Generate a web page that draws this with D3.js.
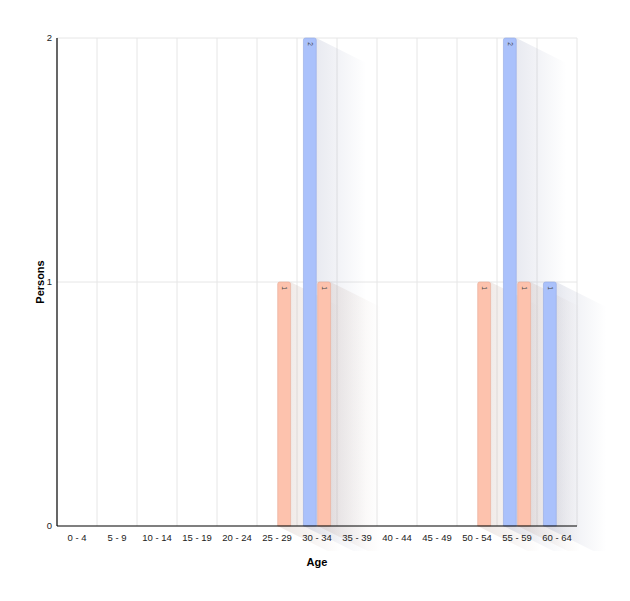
<!DOCTYPE html>
<html>
<head>
<meta charset="utf-8">
<script src="https://cdn.jsdelivr.net/npm/d3@7"></script>
<style>
  body { margin: 0; background: #fff; }
  text { font-family: "Liberation Sans", Arial, sans-serif; }
</style>
</head>
<body>
<svg id="chart" width="630" height="601"></svg>
<script>
// age groups and counts per series
var ageGroups = ["0 - 4", "5 - 9", "10 - 14", "15 - 19", "20 - 24", "25 - 29", "30 - 34",
                 "35 - 39", "40 - 44", "45 - 49", "50 - 54", "55 - 59", "60 - 64"];
var seriesNames = ["male", "female"];
var maleCounts   = [0, 0, 0, 0, 0, 0, 2, 0, 0, 0, 0, 2, 1];
var femaleCounts = [0, 0, 0, 0, 0, 1, 1, 0, 0, 0, 1, 1, 0];
var yTicks = [0, 1, 2];

var colors = { male: "#aac1fb", female: "#fdc2ad" };
var strokes = { male: "#92a8e0", female: "#e6a996" };
var shadowCols = { male: "#8d95b5", female: "#b59a8f" };

var svg = d3.select("#chart");
var margin = { left: 57, right: 53, top: 38, bottom: 75 };
var width = 630 - margin.left - margin.right;
var height = 601 - margin.top - margin.bottom;

var x = d3.scaleBand().domain(ageGroups).range([0, width]);
var xInner = d3.scaleBand().domain(seriesNames).range([5, x.bandwidth() - 5]).paddingInner(0.1).paddingOuter(0.1);
var y = d3.scaleLinear().domain([0, 2]).range([height, 0]);

var defs = svg.append("defs");
seriesNames.forEach(function(s) {
    var g = defs.append("linearGradient").attr("id", "shade-" + s)
        .attr("x1", "0%").attr("x2", "100%").attr("y1", "0%").attr("y2", "0%");
    g.append("stop").attr("offset", "0%").attr("stop-color", shadowCols[s]).attr("stop-opacity", 0.25);
    g.append("stop").attr("offset", "100%").attr("stop-color", shadowCols[s]).attr("stop-opacity", 0);
});

var g = svg.append("g").attr("transform", "translate(" + margin.left + "," + margin.top + ")");

// grid
g.append("g").selectAll("line")
  .data(ageGroups)
  .join("line")
  .attr("x1", function(d) { return x(d) + x.step(); })
  .attr("x2", function(d) { return x(d) + x.step(); })
  .attr("y1", 0).attr("y2", height)
  .attr("stroke", "#e6e6e6").attr("stroke-width", 1);

g.append("g").selectAll("line")
  .data(yTicks.slice(1))
  .join("line")
  .attr("x1", 0).attr("x2", width)
  .attr("y1", function(d) { return y(d); }).attr("y2", function(d) { return y(d); })
  .attr("stroke", "#e6e6e6").attr("stroke-width", 1);

// build bar list
var bars = [];
ageGroups.forEach(function(a, i) {
    if (maleCounts[i] > 0) bars.push({ age: a, s: "male", v: maleCounts[i] });
    if (femaleCounts[i] > 0) bars.push({ age: a, s: "female", v: femaleCounts[i] });
});

var L = 50, k = 0.5;
// shadows
g.append("g").selectAll("path")
  .data(bars)
  .join("path")
  .attr("d", function(d) {
      var x0 = x(d.age) + xInner(d.s), x1 = x0 + xInner.bandwidth();
      var top = y(d.v), bot = y(0);
      return "M" + x1 + "," + top + "L" + (x1 + L) + "," + (top + L * k) +
             "L" + (x1 + L) + "," + (bot + L * k) + "L" + (x0 + L) + "," + (bot + L * k) +
             "L" + x0 + "," + bot + "L" + x1 + "," + bot + "Z";
  })
  .attr("fill", function(d) { return "url(#shade-" + d.s + ")"; });

// bars with rounded tops
var r = 2;
g.append("g").selectAll("path")
  .data(bars)
  .join("path")
  .attr("d", function(d) {
      var x0 = x(d.age) + xInner(d.s), w = xInner.bandwidth();
      var top = y(d.v), bot = y(0);
      return "M" + x0 + "," + bot + "V" + (top + r) + "Q" + x0 + "," + top + " " + (x0 + r) + "," + top +
             "H" + (x0 + w - r) + "Q" + (x0 + w) + "," + top + " " + (x0 + w) + "," + (top + r) +
             "V" + bot + "Z";
  })
  .attr("fill", function(d) { return colors[d.s]; })
  .attr("stroke", function(d) { return strokes[d.s]; })
  .attr("stroke-width", 0.6);

// value labels
g.append("g").selectAll("text")
  .data(bars)
  .join("text")
  .attr("transform", function(d) {
      var cx = x(d.age) + xInner(d.s) + xInner.bandwidth() / 2;
      return "translate(" + cx + "," + (y(d.v) + 6) + ") rotate(90)";
  })
  .attr("dy", "0.35em")
  .attr("text-anchor", "middle")
  .attr("font-size", 6.5)
  .attr("fill", "#444")
  .text(function(d) { return d.v; });

// axes
g.append("line").attr("x1", 0).attr("x2", 0).attr("y1", 0).attr("y2", height)
  .attr("stroke", "#000").attr("stroke-width", 1.2);
g.append("line").attr("x1", 0).attr("x2", width).attr("y1", height).attr("y2", height)
  .attr("stroke", "#000").attr("stroke-width", 1.2);

g.append("g").selectAll("text")
  .data(yTicks)
  .join("text")
  .attr("x", -5).attr("y", function(d) { return y(d); })
  .attr("dy", "0.35em")
  .attr("text-anchor", "end")
  .attr("font-size", 9.5)
  .attr("fill", "#222")
  .text(function(d) { return d; });

g.append("g").selectAll("text")
  .data(ageGroups)
  .join("text")
  .attr("x", function(d) { return x(d) + x.bandwidth() / 2; })
  .attr("y", height + 12)
  .attr("dy", "0.35em")
  .attr("text-anchor", "middle")
  .attr("font-size", 9.5)
  .attr("fill", "#222")
  .text(function(d) { return d; });

svg.append("text")
  .attr("x", margin.left + width / 2).attr("y", 562)
  .attr("dy", "0.35em")
  .attr("text-anchor", "middle")
  .attr("font-size", 11).attr("font-weight", "bold")
  .text("Age");

svg.append("text")
  .attr("transform", "translate(40," + (margin.top + height / 2) + ") rotate(-90)")
  .attr("dy", "0.35em")
  .attr("text-anchor", "middle")
  .attr("font-size", 11).attr("font-weight", "bold")
  .text("Persons");
</script>
</body>
</html>
